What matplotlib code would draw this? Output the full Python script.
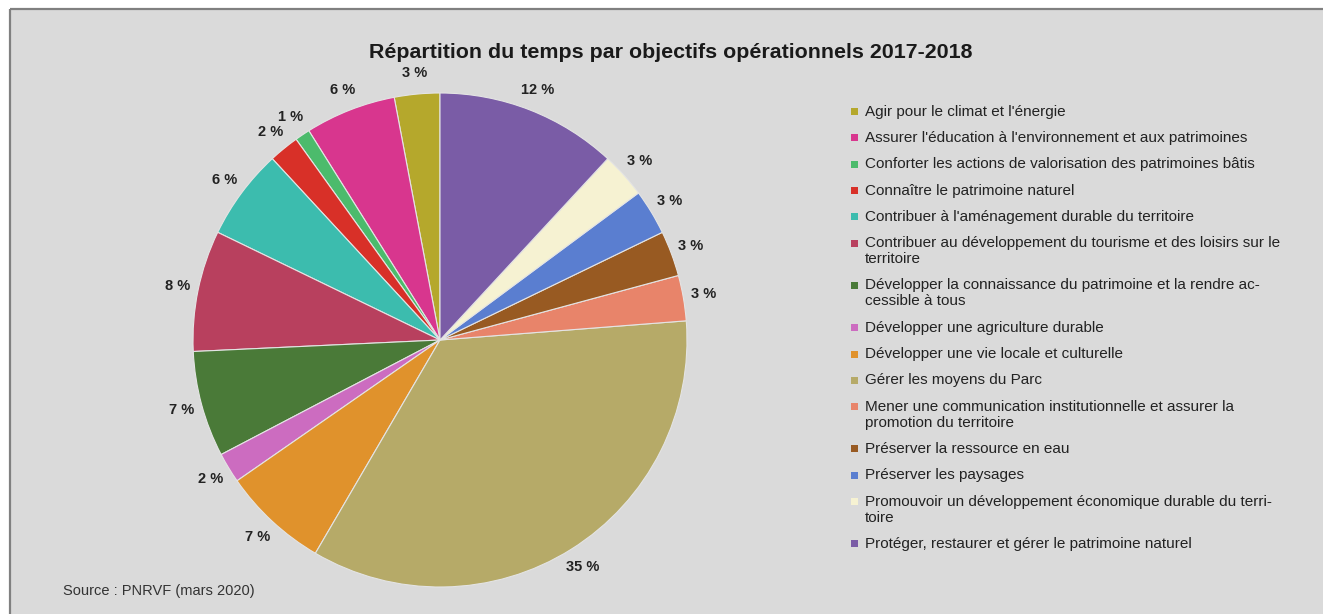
import matplotlib
matplotlib.use("Agg")
import matplotlib.pyplot as plt
from matplotlib import font_manager
from matplotlib.patches import Rectangle
import numpy as np

# Objectives, share of time (%) and slice colours
categories = [
    "Agir pour le climat et l'énergie",
    "Assurer l'éducation à l'environnement et aux patrimoines",
    "Conforter les actions de valorisation des patrimoines bâtis",
    "Connaître le patrimoine naturel",
    "Contribuer à l'aménagement durable du territoire",
    "Contribuer au développement du tourisme et des loisirs sur le\nterritoire",
    "Développer la connaissance du patrimoine et la rendre ac-\ncessible à tous",
    "Développer une agriculture durable",
    "Développer une vie locale et culturelle",
    "Gérer les moyens du Parc",
    "Mener une communication institutionnelle et assurer la\npromotion du territoire",
    "Préserver la ressource en eau",
    "Préserver les paysages",
    "Promouvoir un développement économique durable du terri-\ntoire",
    "Protéger, restaurer et gérer le patrimoine naturel",
]
values = [3, 6, 1, 2, 6, 8, 7, 2, 7, 35, 3, 3, 3, 3, 12]
colors = [
    "#b5a82c", "#d8368e", "#4cbb6c", "#d83028", "#3cbcae",
    "#b8405e", "#4a7a38", "#cc6cc0", "#e0922c", "#b6aa68",
    "#e8846a", "#985a22", "#5a7ed0", "#f6f2d2", "#7a5ca6",
]
title = "Répartition du temps par objectifs opérationnels 2017-2018"
source = "Source : PNRVF (mars 2020)"

W, H = 1323, 614
available = {f.name for f in font_manager.fontManager.ttflist}
narrow = "Liberation Sans Narrow" if "Liberation Sans Narrow" in available else "Liberation Sans"
plt.rcParams["font.family"] = [narrow, "DejaVu Sans"]

fig = plt.figure(figsize=(W / 100, H / 100), dpi=100, facecolor="white")

# Grey panel with a darker rule on its top and left edges (pixel coordinates)
bg = fig.add_axes([0, 0, 1, 1])
bg.set_xlim(0, W)
bg.set_ylim(H, 0)
bg.axis("off")
bg.add_patch(Rectangle((10, 9), W - 10, H - 9, facecolor="#dadada", edgecolor="none"))
bg.plot([9.5, W], [8.5, 8.5], color="#808080", lw=1.6, solid_capstyle="butt")
bg.plot([10, 10], [8.5, H], color="#808080", lw=1.6, solid_capstyle="butt")

# Pie axes: one data unit equals the pie radius
cx, cy, R = 440, 340, 247
half = 1.25
ax = fig.add_axes([(cx - half * R) / W, (H - cy - half * R) / H,
                   2 * half * R / W, 2 * half * R / H])
ax.set_xlim(-half, half)
ax.set_ylim(-half, half)
ax.set_aspect("equal")
ax.axis("off")

wedges, _ = ax.pie(values, colors=colors, startangle=90, counterclock=True, radius=1.0,
                   wedgeprops=dict(edgecolor="#e4e4e4", linewidth=0.8))
for w, v in zip(wedges, values):
    th = np.deg2rad((w.theta1 + w.theta2) / 2)
    ax.text(1.085 * np.cos(th), 1.085 * np.sin(th), f"{v} %", ha="center", va="center",
            fontsize=10.5, fontweight="bold", color="#222222")

fig.text(671 / W, 1 - 53 / H, title, ha="center", va="center", fontsize=15.4,
         fontweight="bold", color="#1a1a1a")
fig.text(63 / W, 1 - 591 / H, source, ha="left", va="center", fontsize=10.5, color="#333333")

# Legend, stacked top-down; wrapped labels take an extra line
y = 111.6
row_pitch, line_pitch = 26.3, 16.0
for lab, col in zip(categories, colors):
    bg.add_patch(Rectangle((851, y - 3.5), 7, 7, facecolor=col, edgecolor="none"))
    for i, line in enumerate(lab.split("\n")):
        bg.text(865, y + i * line_pitch, line, ha="left", va="center",
                fontsize=11, color="#222222")
    y += row_pitch + line_pitch * lab.count("\n")

fig.savefig("out.png", dpi=100, facecolor="white")
